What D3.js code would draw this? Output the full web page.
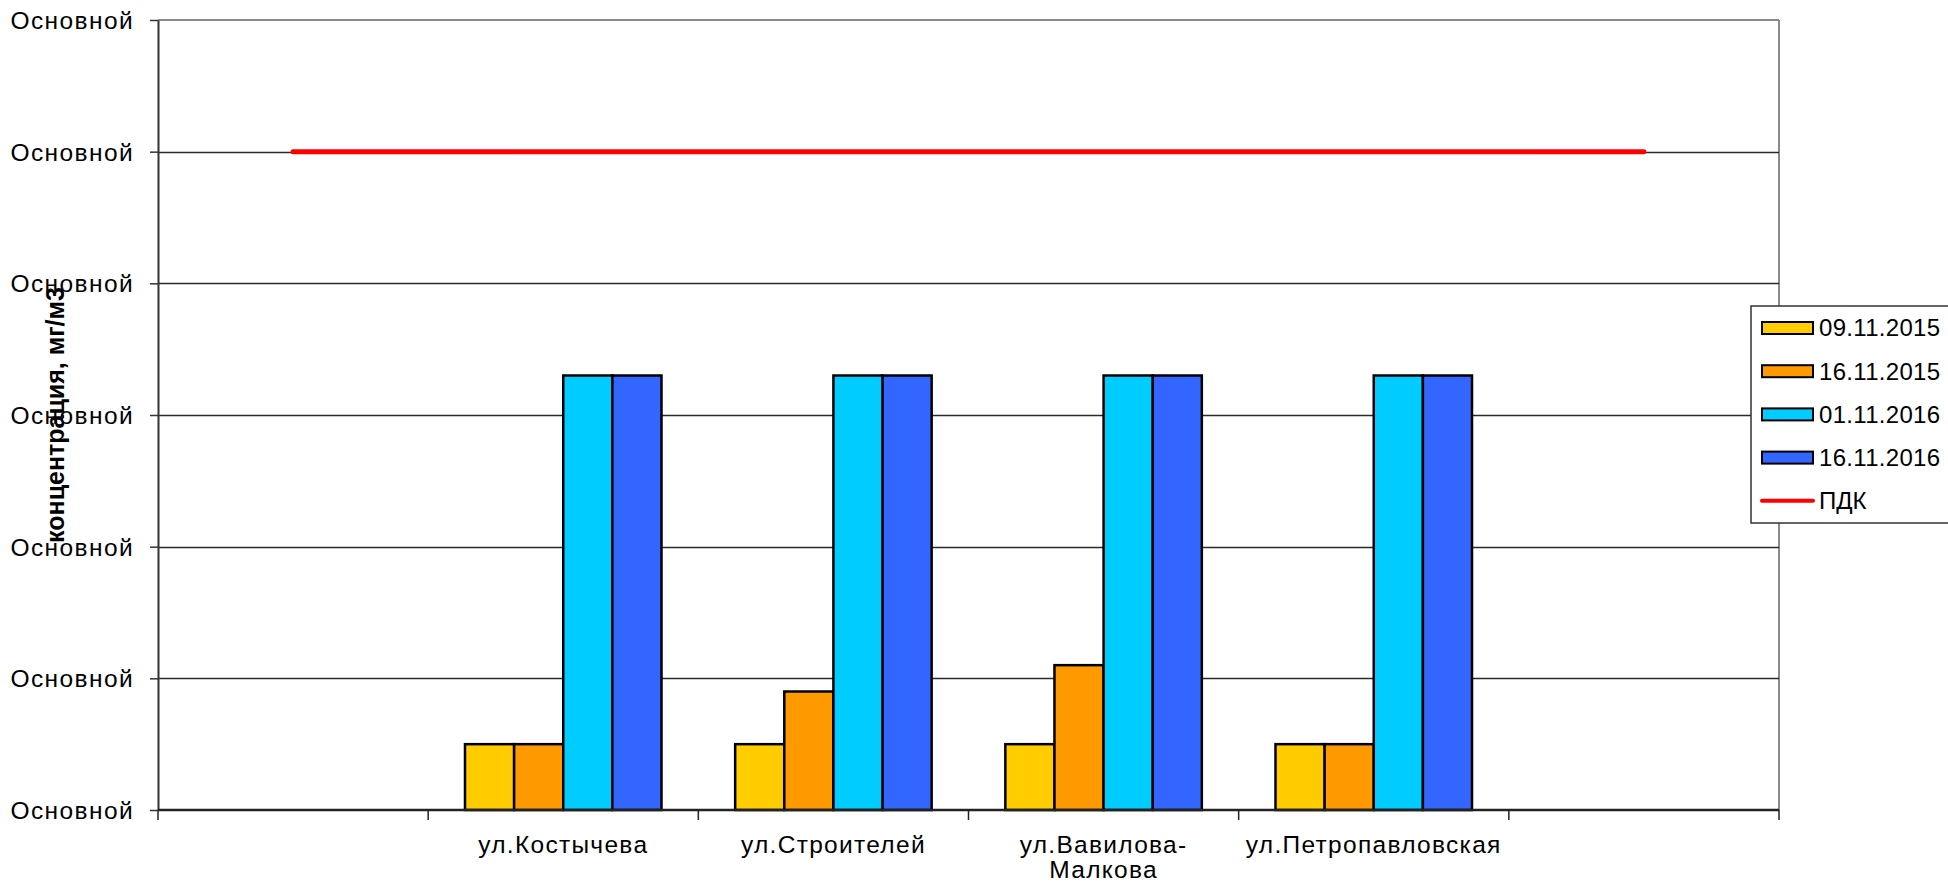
<!DOCTYPE html>
<html>
<head>
<meta charset="utf-8">
<script src="https://cdn.jsdelivr.net/npm/d3@7"></script>
<style>
  html, body { margin: 0; padding: 0; background: #fff; }
  svg { display: block; font-family: Arial, "Liberation Sans", sans-serif; }
</style>
</head>
<body>
<svg id="chart" width="1948" height="885"></svg>
<script>
// ---- data ----
const categories = ["", "ул.Костычева", "ул.Строителей", "ул.Вавилова-\nМалкова", "ул.Петропавловская", ""];
const seriesNames = ["09.11.2015", "16.11.2015", "01.11.2016", "16.11.2016"];
const seriesColors = ["#FFCC00", "#FF9900", "#00CCFF", "#3366FF"];
const s09112015 = [null, 0.05, 0.05, 0.05, 0.05, null];
const s16112015 = [null, 0.05, 0.09, 0.11, 0.05, null];
const s01112016 = [null, 0.33, 0.33, 0.33, 0.33, null];
const s16112016 = [null, 0.33, 0.33, 0.33, 0.33, null];
const pdk = [0.5, 0.5, 0.5, 0.5, 0.5, 0.5];
const pdkName = "ПДК";
const yTicks = [0, 0.1, 0.2, 0.3, 0.4, 0.5, 0.6];
const yTickLabel = "Основной";
const yTitle = "концентрация, мг/м3";

const seriesValues = [s09112015, s16112015, s01112016, s16112016];

// ---- layout ----
const svg = d3.select("#chart");
const L = 158, R = 1779, T = 20, B = 810;

const x = d3.scaleBand().domain(d3.range(categories.length)).range([L, R]).paddingInner(0).paddingOuter(0);
const xs = d3.scaleBand().domain(d3.range(seriesNames.length)).range([0, x.bandwidth()]).paddingInner(0).paddingOuter(0.75);
const y = d3.scaleLinear().domain([0, 0.6]).range([B, T]);

// plot border (top/right)
svg.append("line").attr("x1", L).attr("x2", R).attr("y1", T).attr("y2", T).attr("stroke", "#8a8a8a").attr("stroke-width", 2);
svg.append("line").attr("x1", R).attr("x2", R).attr("y1", T).attr("y2", B).attr("stroke", "#8a8a8a").attr("stroke-width", 2);

// gridlines
svg.append("g").selectAll("line").data(yTicks.slice(1, -1)).join("line")
  .attr("x1", L).attr("x2", R)
  .attr("y1", d => Math.round(y(d)) + 0.5).attr("y2", d => Math.round(y(d)) + 0.5)
  .attr("stroke", "#2b2b2b").attr("stroke-width", 1.3);

// y axis
const yAxis = d3.axisLeft(y).tickValues(yTicks).tickFormat(() => yTickLabel).tickSizeInner(8).tickSizeOuter(0).tickPadding(16);
const gy = svg.append("g").attr("transform", `translate(${L},0)`).call(yAxis);
gy.select(".domain").attr("stroke", "#333").attr("stroke-width", 2);
gy.selectAll(".tick line").attr("stroke", "#333").attr("stroke-width", 1.5);
gy.selectAll(".tick text").attr("font-size", 24.5).attr("letter-spacing", 1.4).attr("fill", "#000")
  .attr("font-family", "Arial, 'Liberation Sans', sans-serif").attr("dy", "0.35em");

// y title
svg.append("text")
  .attr("transform", `translate(64,${(T + B) / 2}) rotate(-90)`)
  .attr("text-anchor", "middle")
  .attr("font-size", 25).attr("font-weight", "bold").attr("fill", "#000")
  .text(yTitle);

// bars
const gBars = svg.append("g");
seriesValues.forEach((vals, si) => {
  gBars.append("g").selectAll("rect")
    .data(vals.map((v, ci) => ({v, ci})).filter(d => d.v != null))
    .join("rect")
    .attr("x", d => x(d.ci) + xs(si))
    .attr("width", xs.bandwidth())
    .attr("y", d => y(d.v))
    .attr("height", d => B - y(d.v))
    .attr("fill", seriesColors[si])
    .attr("stroke", "#000").attr("stroke-width", 2.5);
});

// x axis
const gx = svg.append("g").attr("transform", `translate(0,${B})`);
gx.append("line").attr("x1", L).attr("x2", R).attr("y1", 0).attr("y2", 0).attr("stroke", "#222").attr("stroke-width", 2.5);
const xTickPos = d3.range(categories.length + 1).map(i => i < categories.length ? x(i) : R);
gx.selectAll(".xt").data(xTickPos).join("line").attr("class", "xt")
  .attr("x1", d => d).attr("x2", d => d).attr("y1", 0).attr("y2", 10)
  .attr("stroke", "#222").attr("stroke-width", 1.5);
gx.selectAll(".xl").data(categories).join("text").attr("class", "xl")
  .attr("x", (d, i) => x(i) + x.bandwidth() / 2)
  .attr("y", 43)
  .attr("text-anchor", "middle").attr("font-size", 24.5).attr("letter-spacing", 1.3).attr("fill", "#000")
  .each(function (d) {
    const lines = d.split("\n");
    d3.select(this).selectAll("tspan").data(lines).join("tspan")
      .attr("x", d3.select(this).attr("x"))
      .attr("dy", (l, k) => k === 0 ? 0 : 25)
      .text(l => l);
  });

// PDK line
const line = d3.line().x((d, i) => x(i) + x.bandwidth() / 2).y(d => y(d));
svg.append("path").datum(pdk).attr("d", line).attr("fill", "none")
  .attr("stroke", "#FF0000").attr("stroke-width", 5).attr("stroke-linecap", "round");

// legend
const lg = svg.append("g");
lg.append("rect").attr("x", 1751).attr("y", 306).attr("width", 220).attr("height", 217)
  .attr("fill", "#fff").attr("stroke", "#333").attr("stroke-width", 1.5);
const rowY = i => 328 + i * 43.2;
seriesNames.forEach((n, i) => {
  lg.append("rect").attr("x", 1762).attr("y", rowY(i) - 6).attr("width", 51).attr("height", 12)
    .attr("fill", seriesColors[i]).attr("stroke", "#000").attr("stroke-width", 2);
  lg.append("text").attr("x", 1819).attr("y", rowY(i)).attr("dy", "0.35em")
    .attr("font-size", 24).attr("letter-spacing", 0.3).attr("fill", "#000").text(n);
});
lg.append("line").attr("x1", 1762).attr("x2", 1813).attr("y1", rowY(4)).attr("y2", rowY(4))
  .attr("stroke", "#FF0000").attr("stroke-width", 4).attr("stroke-linecap", "round");
lg.append("text").attr("x", 1819).attr("y", rowY(4)).attr("dy", "0.35em")
  .attr("font-size", 24).attr("fill", "#000").text(pdkName);
</script>
</body>
</html>
